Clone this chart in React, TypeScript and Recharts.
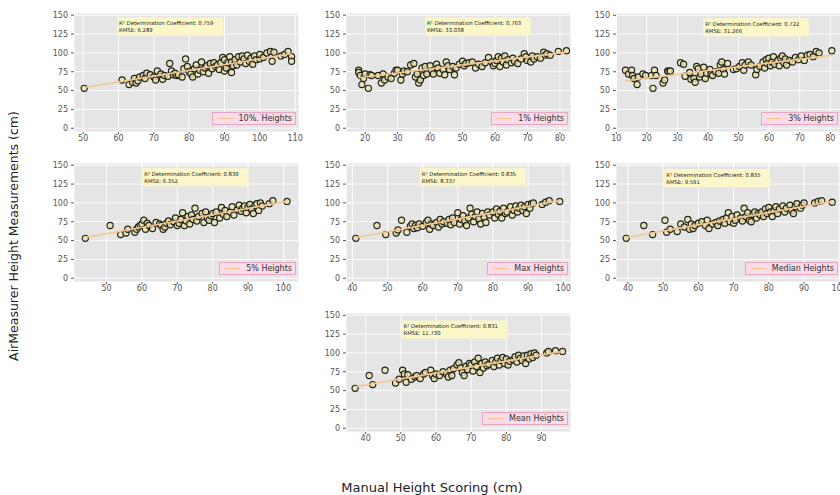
import {
  CartesianGrid,
  Legend,
  ReferenceDot,
  Scatter,
  ScatterChart,
  XAxis,
  YAxis,
} from "recharts";

type P = [number, number];

const yTicks = [0, 25, 50, 75, 100, 125, 150];

const tenPct: P[] = [
  [50.3, 53], [61, 64], [63, 58], [64, 61], [64.5, 66], [65, 60], [65.5, 63], [66, 68], [67, 70],
  [67.5, 66], [68, 73], [69, 71], [70, 68], [70.5, 64], [71, 76], [72, 72], [72.5, 65], [73, 70],
  [74, 69], [74.5, 86], [75, 76], [75.5, 71], [76, 73], [76.5, 70], [77, 71], [78, 68], [78.5, 79],
  [79, 92], [79.5, 82], [80, 75], [80.5, 72], [81, 68], [81.5, 79], [82, 84], [82.5, 72], [83, 77],
  [83.5, 88], [84, 75], [84.5, 80], [85, 83], [85.5, 73], [86, 86], [86.5, 79], [87, 87], [87.5, 82],
  [88, 84], [88.5, 78], [89, 87], [89.5, 94], [90, 91], [90, 76], [90.5, 80], [91, 87], [91.5, 95],
  [92, 74], [92, 88], [92.5, 83], [93, 91], [93.5, 84], [94, 95], [94.5, 88], [95, 96], [95.5, 92],
  [96, 86], [96.5, 97], [97, 89], [97.5, 93], [98, 85], [98.5, 96], [99, 91], [100, 92], [100, 98],
  [101, 94], [102, 100], [103, 102], [103.5, 89], [104, 101], [106, 96], [107, 98], [108, 102],
  [109, 95], [109, 89],
];
const onePct: P[] = [
  [18, 77], [18, 74], [18.5, 70], [19, 58], [19.5, 66], [20, 72], [21, 53], [21.5, 71], [22, 70],
  [24, 70], [25, 60], [25.5, 72], [26, 64], [27, 68], [28, 66], [29, 73], [29.5, 77], [30, 77],
  [31, 64], [31.5, 72], [32, 76], [33, 75], [34, 84], [35, 86], [35.5, 68], [36, 72], [36.5, 60],
  [37, 64], [37.5, 80], [38, 70], [38.5, 82], [39, 72], [40, 83], [40.5, 76], [41, 72], [42, 85],
  [42.5, 80], [43, 73], [44, 78], [44.5, 71], [45, 88], [45.5, 83], [46, 78], [47, 82], [47.5, 71],
  [48, 80], [49, 85], [50, 89], [50.5, 83], [51, 86], [52, 87], [53, 88], [54, 80], [55, 85],
  [56, 82], [57, 87], [58, 94], [59, 88], [59.5, 83], [60, 86], [60.5, 90], [61, 95], [61.5, 82],
  [62, 93], [62.5, 88], [63, 96], [63.5, 84], [64, 91], [65, 87], [65.5, 93], [66, 89], [67, 86],
  [68, 92], [69, 99], [69.5, 95], [70, 90], [71, 88], [71.5, 96], [72, 92], [73, 95], [74, 93],
  [75, 101], [75.5, 97], [76, 99], [77, 97], [79.5, 102], [82, 103],
];
const threePct: P[] = [
  [13, 77], [14, 72], [15, 77], [15.3, 70], [15.8, 66], [16.8, 58], [17.2, 68], [18.7, 72],
  [19.6, 70], [21.5, 70], [22, 53], [22.5, 77], [23, 70], [25.3, 60], [25.8, 64], [26.8, 76],
  [27.2, 75], [27.7, 76], [31, 87], [32, 85], [32.5, 69], [34, 74], [34.4, 65], [35.4, 66],
  [35.8, 61], [36.3, 82], [36.8, 79], [37.3, 68], [37.7, 72], [38.6, 81], [39.1, 66], [39.6, 73],
  [40.6, 78], [41, 72], [41.5, 70], [42.5, 75], [43.5, 73], [44, 84], [44.5, 88], [45, 78],
  [45.4, 72], [46.4, 86], [48.3, 78], [49.3, 79], [50.3, 82], [51.2, 87], [51.7, 77], [52.2, 84],
  [53.2, 88], [54.1, 84], [55.6, 71], [56, 78], [57, 82], [58, 88], [58.5, 80], [59, 91], [59.4, 86],
  [59.9, 93], [60.4, 83], [60.9, 88], [61.4, 95], [61.8, 85], [62.8, 90], [63.3, 83], [63.8, 93],
  [64.3, 96], [64.8, 87], [65.3, 92], [65.7, 84], [66.7, 90], [67.6, 88], [68.6, 94], [69.6, 91],
  [70.5, 96], [71.5, 90], [72.5, 97], [73.4, 98], [74.4, 95], [75.4, 102], [76.3, 100], [80.5, 103],
];
const fivePct: P[] = [
  [44, 53], [51, 70], [54, 58], [55.5, 60], [56, 65], [58, 61], [58.5, 65], [59, 68], [59.5, 70],
  [60, 72], [60.5, 77], [61, 65], [61.5, 73], [62, 70], [63, 66], [64, 74], [65, 72], [65.5, 70],
  [66, 65], [66.5, 68], [67, 73], [67.5, 76], [68, 71], [69, 75], [69.5, 80], [70, 70], [70.5, 73],
  [71, 78], [71.5, 87], [72, 70], [72.5, 76], [73, 82], [73.5, 72], [74, 84], [74.5, 78], [75, 93],
  [75.5, 76], [76, 82], [77, 86], [77.5, 74], [78, 88], [78.5, 80], [79, 77], [79.5, 83], [80, 86],
  [80.5, 74], [81, 88], [82, 80], [82.5, 94], [83, 85], [83.5, 90], [84, 82], [85, 88], [85.5, 95],
  [86, 84], [87, 91], [87.5, 97], [88, 89], [88.5, 93], [89, 96], [89.5, 87], [90, 94], [90.5, 98],
  [91, 92], [91.5, 86], [92, 97], [92.5, 99], [93, 90], [93.5, 100], [94, 96], [96, 99], [97, 103],
  [101, 102],
];
const maxH: P[] = [
  [41, 53], [47, 70], [49.5, 58], [52.5, 60], [53, 64], [54, 77], [55.5, 61], [56.5, 69], [57, 72],
  [57.5, 66], [58, 70], [58.5, 67], [59, 72], [60, 69], [61, 74], [61.5, 77], [62, 65], [62.5, 72],
  [63, 70], [64, 74], [64.5, 68], [65, 78], [65.5, 72], [66, 75], [67, 73], [67.5, 78], [68, 71],
  [68.5, 80], [69, 74], [70, 87], [70.5, 72], [71, 78], [71.5, 83], [72, 76], [72.5, 70], [73, 80],
  [73.5, 93], [74, 85], [74.5, 75], [75, 82], [75.5, 88], [76, 79], [76.5, 72], [77, 86], [77.5, 81],
  [78, 74], [78.5, 88], [79, 84], [80, 88], [80.5, 80], [81, 92], [81.5, 85], [82, 89], [82.5, 80],
  [83, 93], [83.5, 86], [84, 88], [85, 95], [85.5, 84], [86, 90], [86.5, 96], [87, 88], [87.5, 93],
  [88, 97], [88.5, 90], [89, 95], [89.5, 86], [90, 98], [90.5, 93], [91, 99], [91.5, 100], [94, 98],
  [95, 101], [96, 103], [99, 102],
];
const medianH: P[] = [
  [39.5, 53], [44.5, 70], [47, 58], [50.5, 77], [51, 61], [52, 65], [54, 62], [55, 72], [56, 68],
  [57, 78], [57.5, 65], [58, 72], [58.5, 66], [59, 70], [60, 73], [61, 75], [62, 70], [62.5, 77],
  [63, 66], [64, 72], [65, 74], [65.5, 70], [66, 76], [67, 78], [67.5, 73], [68, 80], [68.5, 87],
  [69, 75], [69.5, 82], [70, 73], [70.5, 77], [71, 84], [72, 80], [72.5, 76], [73, 93], [73.5, 82],
  [74, 87], [74.5, 77], [75, 75], [75.5, 85], [76, 88], [76.5, 80], [77, 86], [77.5, 84], [78, 88],
  [78.5, 82], [79, 92], [79.5, 86], [80, 94], [80.5, 88], [81, 82], [81.5, 90], [82, 95], [82.5, 86],
  [83, 92], [84, 96], [84.5, 88], [85, 93], [86, 97], [86.5, 90], [87, 86], [87.5, 95], [88, 99],
  [89, 93], [89.5, 97], [90, 100], [93, 100], [94, 102], [95, 103], [98, 101],
];
const meanH: P[] = [
  [37, 53], [41, 70], [42, 58], [45.5, 77], [48.5, 60], [49.5, 65], [50.5, 77], [51, 72], [51.5, 61],
  [52, 71], [53, 65], [54, 68], [54.5, 70], [55.5, 66], [56.5, 72], [57, 74], [58.5, 77], [59, 70],
  [59.5, 66], [60, 72], [61, 70], [62, 75], [63, 72], [63.5, 68], [64, 77], [64.5, 70], [65, 79],
  [66, 84], [66.5, 87], [67, 80], [67.5, 74], [68, 70], [68.5, 82], [69, 78], [69.5, 86], [70, 84],
  [70.5, 76], [71, 88], [71.5, 82], [72, 93], [72.5, 74], [73, 86], [73.5, 80], [74, 88], [74.5, 83],
  [75, 85], [76, 90], [76.5, 82], [77, 88], [77.5, 93], [78, 84], [78.5, 90], [79, 94], [79.5, 86],
  [80, 92], [80.5, 84], [81, 89], [82, 91], [82.5, 95], [83, 88], [83.5, 97], [84, 93], [84.5, 90],
  [85, 96], [85.5, 86], [86, 97], [86.5, 92], [87, 99], [87.5, 94], [88, 100], [88.5, 97],
  [91.5, 100], [92, 102], [94, 103], [96, 102],
];

// fitted lines, end points
const fits: P[][] = [
  [[50.3, 54], [109, 99]],
  [[18, 67], [82, 101]],
  [[13, 63], [80.5, 97]],
  [[44, 54], [101, 102]],
  [[41, 54], [99, 103]],
  [[39.5, 54], [98, 102]],
  [[37, 55], [96, 102]],
];

const labels = ["10%. Heights", "1% Heights", "3% Heights", "5% Heights", "Max Heights", "Median Heights", "Mean Heights"];
const r2 = ["0.759", "0.763", "0.722", "0.830", "0.835", "0.835", "0.831"];
const rmse = ["6.289", "33.038", "31.266", "6.352", "8.337", "9.591", "11.730"];
const xDomains: P[] = [[47.4, 111.1], [14.1, 83.4], [9.9, 83.5], [40.8, 104.4], [38.2, 102.2], [36.6, 100.5], [34.4, 98.4]];
const xTicks = [
  [50, 60, 70, 80, 90, 100, 110],
  [20, 30, 40, 50, 60, 70, 80],
  [10, 20, 30, 40, 50, 60, 70, 80],
  [50, 60, 70, 80, 90, 100],
  [40, 50, 60, 70, 80, 90, 100],
  [40, 50, 60, 70, 80, 90, 100],
  [40, 50, 60, 70, 80, 90],
];
const annAt: P[] = [[59.6, 147], [38.4, 147], [38.4, 146], [60.1, 146], [59.2, 146], [50.3, 145], [50.2, 143]];
const pointSets = [tenPct, onePct, threePct, fivePct, maxH, medianH, meanH];

const FONT = "'DejaVu Sans', sans-serif";
const colLeft = [74, 346, 616];
const rowTop = [13, 163, 313];
const slots = [[0, 0], [1, 0], [2, 0], [0, 1], [1, 1], [2, 1], [1, 2]];

function Dot(props: any) {
  return <circle cx={props.cx} cy={props.cy} r={3.1} fill="#e9e3ae" fillOpacity={0.8} stroke="#23231a" strokeWidth={1.15} />;
}

function Note({ cx, cy, i }: { cx: number; cy: number; i: number }) {
  return (
    <g>
      <rect x={cx} y={cy} width={106} height={18} fill="#fbf7c8" />
      <text x={cx + 2} y={cy + 7.5} fontSize={5.3} fontFamily={FONT} fill="#222">
        R² Determination Coefficient: {r2[i]}
      </text>
      <text x={cx + 2} y={cy + 14.5} fontSize={5.3} fontFamily={FONT} fill="#222">
        RMSE: {rmse[i]}
      </text>
    </g>
  );
}

function LegendBox({ label }: { label: string }) {
  return (
    <div
      style={{
        display: "flex",
        alignItems: "center",
        height: 11,
        padding: "0 3px 0 5px",
        background: "#f9dce8",
        border: "1px solid #e8a6c5",
        fontFamily: FONT,
        fontSize: 8,
        color: "#333",
        whiteSpace: "nowrap",
      }}
    >
      <span style={{ width: 15, height: 1.5, background: "#f6c58c", marginRight: 6 }} />
      {label}
    </div>
  );
}

function Panel({ i }: { i: number }) {
  const [c, r] = slots[i];
  const pts = pointSets[i].map(([x, y]) => ({ x, y }));
  const fit = fits[i].map(([x, y]) => ({ x, y }));
  const tick = { fill: "#555", fontSize: 8, fontFamily: FONT };
  return (
    <div style={{ position: "absolute", left: colLeft[c] - 35, top: rowTop[r] - 5 }}>
      <ScatterChart width={265} height={149} margin={{ top: 5, right: 5, bottom: 5, left: 5 }}>
        <CartesianGrid stroke="#ffffff" strokeWidth={0.9} fill="#e5e5e5" />
        <XAxis
          type="number"
          dataKey="x"
          domain={xDomains[i]}
          ticks={xTicks[i]}
          interval={0}
          allowDataOverflow
          axisLine={false}
          tickLine={{ stroke: "#555" }}
          tickSize={2}
          tickMargin={1}
          tick={tick}
          height={20}
        />
        <YAxis
          type="number"
          dataKey="y"
          domain={[-5, 153]}
          ticks={yTicks}
          interval={0}
          allowDataOverflow
          axisLine={false}
          tickLine={{ stroke: "#555" }}
          tickSize={3}
          tickMargin={3}
          tick={tick}
          width={30}
        />
        <Scatter data={pts} shape={Dot} isAnimationActive={false} legendType="none" />
        <Scatter
          data={fit}
          line={{ stroke: "#f6c58c", strokeWidth: 1.6 }}
          shape={() => <g />}
          isAnimationActive={false}
          name={labels[i]}
        />
        <ReferenceDot
          x={annAt[i][0]}
          y={annAt[i][1]}
          r={0}
          ifOverflow="visible"
          shape={(p: any) => <Note cx={p.cx} cy={p.cy} i={i} />}
        />
        <Legend
          layout="horizontal"
          verticalAlign="middle"
          wrapperStyle={{ left: "auto", top: "auto", right: 8, bottom: 32, width: "auto" }}
          content={() => <LegendBox label={labels[i]} />}
        />
      </ScatterChart>
    </div>
  );
}

export default function App() {
  return (
    <div
      style={{
        position: "absolute",
        left: 0,
        top: 0,
        width: 840,
        height: 495,
        background: "#fff",
        overflow: "hidden",
      }}
    >
      {labels.map((_, i) => (
        <Panel key={i} i={i} />
      ))}
      <div
        style={{
          position: "absolute",
          left: 13,
          top: 236,
          transform: "translate(-50%, -50%) rotate(-90deg)",
          whiteSpace: "nowrap",
          fontFamily: FONT,
          fontSize: 12.5,
          color: "#222",
        }}
      >
        AirMeasurer Height Measurements (cm)
      </div>
      <div
        style={{
          position: "absolute",
          left: 432,
          top: 487,
          transform: "translate(-50%, -50%)",
          whiteSpace: "nowrap",
          fontFamily: FONT,
          fontSize: 13,
          color: "#222",
        }}
      >
        Manual Height Scoring (cm)
      </div>
    </div>
  );
}
